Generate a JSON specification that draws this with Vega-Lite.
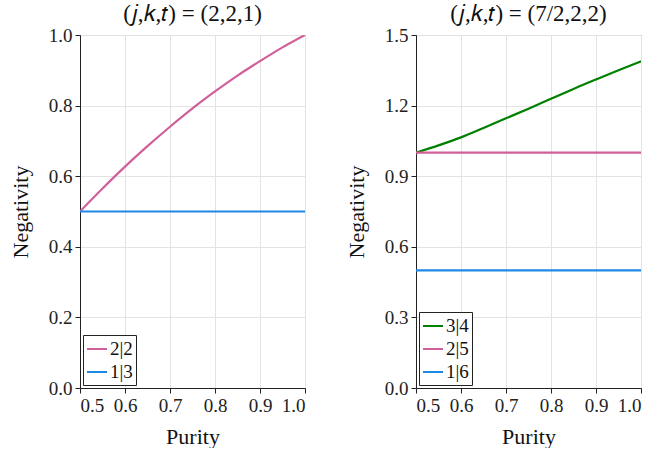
{
  "$schema": "https://vega.github.io/schema/vega-lite/v6.json",
  "background": "white",
  "padding": {"left": 8, "top": 2, "right": 16, "bottom": 0},
  "config": {
    "font": "Liberation Serif",
    "style": {"guide-label": {"font": "Liberation Serif", "fontSize": 19}, "guide-title": {"font": "Liberation Serif", "fontSize": 22}},
    "view": {"stroke": "#444", "strokeWidth": 1},
    "axis": {
      "labelFont": "Liberation Serif", "labelFontSize": 19, "labelColor": "#222",
      "titleFont": "Liberation Serif", "titleFontSize": 22, "titleFontWeight": "normal", "titleColor": "#111",
      "gridColor": "#e3e3e3", "domainColor": "#222", "tickColor": "#222", "tickSize": 5, "labelPadding": 3
    },
    "axisX": {"labelFont": "Liberation Serif", "labelFontSize": 19},
    "axisBottom": {"labelFont": "Liberation Serif", "labelFontSize": 19},
    "title": {"font": "Liberation Serif", "fontSize": 23, "fontWeight": "normal", "offset": 2, "color": "#111"},
    "legend": {
      "orient": "bottom-left", "offset": 3, "strokeColor": "#222", "fillColor": "white", "padding": 3,
      "labelFont": "Liberation Serif", "labelFontSize": 19, "labelColor": "#111",
      "symbolType": "stroke", "symbolSize": 400, "symbolStrokeWidth": 2, "rowPadding": 2, "labelOffset": 2, "cornerRadius": 0
    }
  },
  "datasets": {
    "left": [
      {"series": "2|2", "x": 0.5, "y": 0.5},
      {"series": "2|2", "x": 0.55, "y": 0.565},
      {"series": "2|2", "x": 0.6, "y": 0.627},
      {"series": "2|2", "x": 0.65, "y": 0.685},
      {"series": "2|2", "x": 0.7, "y": 0.74},
      {"series": "2|2", "x": 0.75, "y": 0.792},
      {"series": "2|2", "x": 0.8, "y": 0.84},
      {"series": "2|2", "x": 0.85, "y": 0.885},
      {"series": "2|2", "x": 0.9, "y": 0.926},
      {"series": "2|2", "x": 0.95, "y": 0.965},
      {"series": "2|2", "x": 1.0, "y": 1.0},
      {"series": "1|3", "x": 0.5, "y": 0.5},
      {"series": "1|3", "x": 1.0, "y": 0.5}
    ],
    "right": [
      {"series": "3|4", "x": 0.5, "y": 1.0},
      {"series": "3|4", "x": 0.55, "y": 1.031},
      {"series": "3|4", "x": 0.6, "y": 1.065},
      {"series": "3|4", "x": 0.65, "y": 1.105},
      {"series": "3|4", "x": 0.7, "y": 1.146},
      {"series": "3|4", "x": 0.75, "y": 1.187},
      {"series": "3|4", "x": 0.8, "y": 1.229},
      {"series": "3|4", "x": 0.85, "y": 1.271},
      {"series": "3|4", "x": 0.9, "y": 1.311},
      {"series": "3|4", "x": 0.95, "y": 1.35},
      {"series": "3|4", "x": 1.0, "y": 1.388},
      {"series": "2|5", "x": 0.5, "y": 1.0},
      {"series": "2|5", "x": 1.0, "y": 1.0},
      {"series": "1|6", "x": 0.5, "y": 0.5},
      {"series": "1|6", "x": 1.0, "y": 0.5}
    ]
  },
  "spacing": 38,
  "resolve": {"scale": {"color": "independent"}, "legend": {"color": "independent"}},
  "hconcat": [
    {
      "width": 225, "height": 353,
      "title": {"text": "(𝑗,𝑘,𝑡) = (2,2,1)", "dy": 2},
      "data": {"name": "left"},
      "mark": {"type": "line", "strokeWidth": 2.2, "clip": true, "interpolate": "monotone"},
      "encoding": {
        "x": {"field": "x", "type": "quantitative", "title": "Purity", "scale": {"domain": [0.5, 1.0], "nice": false, "zero": false},
              "axis": {"values": [0.5, 0.6, 0.7, 0.8, 0.9, 1.0], "format": ".1f", "titlePadding": 11, "labelFont": "Liberation Serif", "labelFontSize": 19}},
        "y": {"field": "y", "type": "quantitative", "title": "Negativity", "scale": {"domain": [0, 1.0], "nice": false},
              "axis": {"values": [0, 0.2, 0.4, 0.6, 0.8, 1.0], "format": ".1f", "titlePadding": 16, "labelFont": "Liberation Serif", "labelFontSize": 19}},
        "color": {"field": "series", "type": "nominal", "title": null,
                  "scale": {"domain": ["2|2", "1|3"], "range": ["#d0609a", "#1e88e5"]},
                  "sort": ["2|2", "1|3"],
                  "legend": {"labelFont": "Liberation Serif", "labelFontSize": 19}}
      }
    },
    {
      "width": 225, "height": 353,
      "title": {"text": "(𝑗,𝑘,𝑡) = (7/2,2,2)", "dy": 2},
      "data": {"name": "right"},
      "mark": {"type": "line", "strokeWidth": 2.2, "clip": true, "interpolate": "monotone"},
      "encoding": {
        "x": {"field": "x", "type": "quantitative", "title": "Purity", "scale": {"domain": [0.5, 1.0], "nice": false, "zero": false},
              "axis": {"values": [0.5, 0.6, 0.7, 0.8, 0.9, 1.0], "format": ".1f", "titlePadding": 11, "labelFont": "Liberation Serif", "labelFontSize": 19}},
        "y": {"field": "y", "type": "quantitative", "title": "Negativity", "scale": {"domain": [0, 1.5], "nice": false},
              "axis": {"values": [0, 0.3, 0.6, 0.9, 1.2, 1.5], "format": ".1f", "titlePadding": 16, "labelFont": "Liberation Serif", "labelFontSize": 19}},
        "color": {"field": "series", "type": "nominal", "title": null,
                  "scale": {"domain": ["3|4", "2|5", "1|6"], "range": ["#008000", "#d0609a", "#1e88e5"]},
                  "sort": ["3|4", "2|5", "1|6"],
                  "legend": {"labelFont": "Liberation Serif", "labelFontSize": 19}}
      }
    }
  ]
}
